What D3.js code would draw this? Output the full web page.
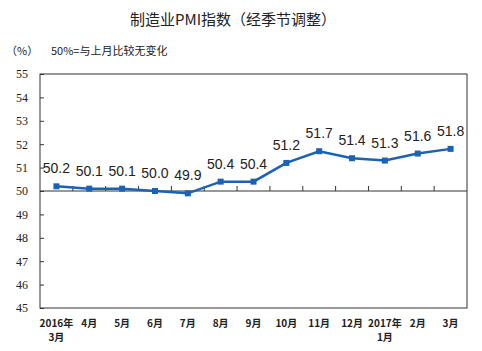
<!DOCTYPE html>
<html><head><meta charset="utf-8">
<script src="https://cdn.jsdelivr.net/npm/d3@7"></script>
<style>body{margin:0;background:#fff}svg{display:block}</style>
</head><body>
<svg id="c" width="482" height="351"></svg>
<script>
const months = ["2016年|3月","4月","5月","6月","7月","8月","9月","10月","11月","12月","2017年|1月","2月","3月"];
const pmi = [50.2,50.1,50.1,50.0,49.9,50.4,50.4,51.2,51.7,51.4,51.3,51.6,51.8];
const yTicks = [45,46,47,48,49,50,51,52,53,54,55];

const svg = d3.select("#c");
const L=40, R=467, T=74, B=308;
const x = d3.scaleBand().domain(months).range([L,R]);
const y = d3.scaleLinear().domain([45,55]).range([B,T]);
const cjk = "'Noto Sans CJK SC', sans-serif";
const ink = "#333";

svg.append("text").attr("x",233).attr("y",25).attr("text-anchor","middle")
  .attr("font-family",cjk).attr("font-size",15).attr("fill","#222").text("制造业PMI指数（经季节调整）");
svg.append("text").attr("x",6).attr("y",55).attr("font-family",cjk).attr("font-size",11).attr("fill","#222").text("（%）");
svg.append("text").attr("x",51).attr("y",55).attr("font-family",cjk).attr("font-size",11).attr("fill","#222").text("50%=与上月比较无变化");

// frame
svg.append("rect").attr("x",L).attr("y",T).attr("width",R-L).attr("height",B-T)
  .attr("fill","none").attr("stroke",ink).attr("stroke-width",1);

// y axis
const ya = svg.append("g").attr("transform",`translate(${L},0)`)
  .call(d3.axisLeft(y).tickValues(yTicks).tickSize(-4).tickPadding(12).tickFormat(d3.format("d")));
ya.select(".domain").remove();
ya.selectAll("line").attr("stroke",ink);
ya.selectAll("text").attr("font-family","'Liberation Serif', serif").attr("font-size",12).attr("fill","#222");

// baseline at 50 with ticks between categories
svg.append("line").attr("x1",L).attr("x2",R).attr("y1",y(50)).attr("y2",y(50)).attr("stroke",ink);
const boundaries = months.slice(1).map(m=>x(m));
svg.append("g").selectAll("line").data(boundaries).join("line")
  .attr("x1",d=>d).attr("x2",d=>d).attr("y1",y(50)-5).attr("y2",y(50)).attr("stroke",ink);

// x labels
const xl = svg.append("g");
months.forEach(m=>{
  const parts = m.split("|");
  parts.forEach((p,i)=>xl.append("text").attr("x",x(m)+x.bandwidth()/2).attr("y",327+i*14)
    .attr("text-anchor","middle").attr("font-family",cjk).attr("font-size",10).attr("font-weight","bold").attr("fill","#222").text(p));
});

// line
const cx = (d,i)=>x(months[i])+x.bandwidth()/2;
svg.append("path").datum(pmi).attr("fill","none").attr("stroke","#1a62b5").attr("stroke-width",2.5)
  .attr("d",d3.line().x(cx).y(d=>y(d)));
svg.append("g").selectAll("rect").data(pmi).join("rect")
  .attr("x",(d,i)=>cx(d,i)-3).attr("y",d=>y(d)-3).attr("width",6).attr("height",6).attr("fill","#1a62b5");
svg.append("g").selectAll("text").data(pmi).join("text")
  .attr("x",cx).attr("y",d=>y(d)-13).attr("text-anchor","middle")
  .attr("font-family","'Liberation Sans', Arial, sans-serif").attr("font-size",14).attr("fill","#222")
  .text(d=>d.toFixed(1));
</script>
</body></html>
